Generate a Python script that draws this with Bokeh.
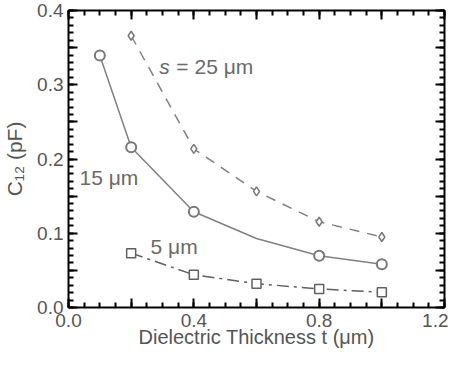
from bokeh.plotting import figure
from bokeh.models import (Range1d, LinearAxis, FixedTicker, PrintfTickFormatter, Label,
                          CustomLabelingPolicy)
from bokeh.embed import file_html
from bokeh.resources import INLINE

# ---- data ----
t25 = [0.2, 0.4, 0.6, 0.8, 1.0]
c25 = [0.366, 0.2136, 0.1565, 0.1155, 0.095]

t15_line = [0.1, 0.2, 0.4, 0.6, 0.8, 1.0]
c15_line = [0.3394, 0.2158, 0.1289, 0.093, 0.0696, 0.0584]
t15_mark = [0.1, 0.2, 0.4, 0.8, 1.0]
c15_mark = [0.3394, 0.2158, 0.1289, 0.0696, 0.0584]

t5 = [0.2, 0.4, 0.6, 0.8, 1.0]
c5 = [0.0732, 0.0441, 0.0321, 0.025, 0.0205]

x_major = [0.0, 0.2, 0.4, 0.6, 0.8, 1.0, 1.2]
x_minor = [round(i * 0.05, 2) for i in range(25)]
y_major = [round(i * 0.05, 2) for i in range(9)]
y_minor = [round(i * 0.01, 2) for i in range(41)]

FONT = "Liberation Sans"
TXT = "#555555"
ANN = "#6a6a6a"
LINE = "#808080"
MARK = "#787878"

p = figure(width=448, height=350, output_backend="svg", toolbar_location=None,
           x_range=Range1d(0, 1.2), y_range=Range1d(0, 0.4),
           x_axis_location=None, y_axis_location=None,
           min_border_left=64, min_border_right=2, min_border_top=10, min_border_bottom=5)
p.grid.visible = False
p.outline_line_color = None
p.background_fill_color = "white"

keep_even = CustomLabelingPolicy(code="""
    for (let i = 0; i < indices.size; i++) { if (i % 2 == 1) indices.unset(i) }
    return indices
""")
keep_none = CustomLabelingPolicy(code="""
    for (let i = 0; i < indices.size; i++) { indices.unset(i) }
    return indices
""")

def style(ax, labels=True):
    ax.axis_line_color = "black"
    ax.axis_line_width = 2
    ax.major_tick_line_color = "black"
    ax.major_tick_line_width = 2
    ax.minor_tick_line_color = "black"
    ax.minor_tick_line_width = 2
    ax.major_tick_in = 9
    ax.major_tick_out = 0
    ax.minor_tick_in = 5
    ax.minor_tick_out = 0
    ax.major_label_text_font = FONT
    ax.major_label_text_color = TXT
    ax.axis_label_text_font = FONT
    ax.axis_label_text_color = TXT
    ax.axis_label_text_font_style = "normal"
    ax.axis_label_text_font_size = "20px"
    ax.formatter = PrintfTickFormatter(format="%.1f")
    if labels:
        ax.major_label_text_font_size = "19px"
        ax.major_label_policy = keep_even
    else:
        ax.major_label_text_font_size = "1px"
        ax.major_label_standoff = 0
        ax.major_label_policy = keep_none

xb = LinearAxis(ticker=FixedTicker(ticks=x_major, minor_ticks=x_minor),
                axis_label="Dielectric Thickness t (\u03bcm)")
style(xb)
xb.major_label_standoff = 6
xb.axis_label_standoff = -4
p.add_layout(xb, "below")

xt = LinearAxis(ticker=FixedTicker(ticks=x_major, minor_ticks=x_minor))
style(xt, labels=False)
p.add_layout(xt, "above")

yl = LinearAxis(ticker=FixedTicker(ticks=y_major, minor_ticks=y_minor),
                axis_label="C\u2081\u2082 (pF)")
style(yl)
yl.axis_label_text_font_size = "21px"
yl.major_label_standoff = 5
yl.axis_label_standoff = 8
p.add_layout(yl, "left")

yr = LinearAxis(ticker=FixedTicker(ticks=y_major, minor_ticks=y_minor))
style(yr, labels=False)
p.add_layout(yr, "right")

# ---- series ----
p.line(t25, c25, line_color=LINE, line_width=1.5, line_dash="10 8")
p.scatter(t25, c25, marker="diamond", size=9, line_color=MARK, line_width=1.5, fill_color="white")

p.line(t15_line, c15_line, line_color=LINE, line_width=1.5)
p.scatter(t15_mark, c15_mark, marker="circle", size=10, line_color=MARK, line_width=2, fill_color="white")

p.line(t5, c5, line_color="#606060", line_width=1.5, line_dash="12 5 3 5")
p.scatter(t5, c5, marker="square", size=9, line_color="#606060", line_width=1.5, fill_color="white")

# ---- annotations ----
p.add_layout(Label(x=0.29, y=0.325, text="s", text_font=FONT, text_font_style="italic",
                   text_font_size="21px", text_color=ANN, text_baseline="alphabetic"))
p.add_layout(Label(x=0.29, y=0.325, x_offset=17, text="= 25 \u03bcm", text_font=FONT,
                   text_font_size="21px", text_color=ANN, text_baseline="alphabetic"))
p.add_layout(Label(x=0.035, y=0.175, text="15 \u03bcm", text_font=FONT,
                   text_font_size="21px", text_color=ANN, text_baseline="alphabetic"))
p.add_layout(Label(x=0.262, y=0.0816, text="5 \u03bcm", text_font=FONT,
                   text_font_size="21px", text_color=ANN, text_baseline="alphabetic"))

open("out.html", "w").write(file_html(p, INLINE))
